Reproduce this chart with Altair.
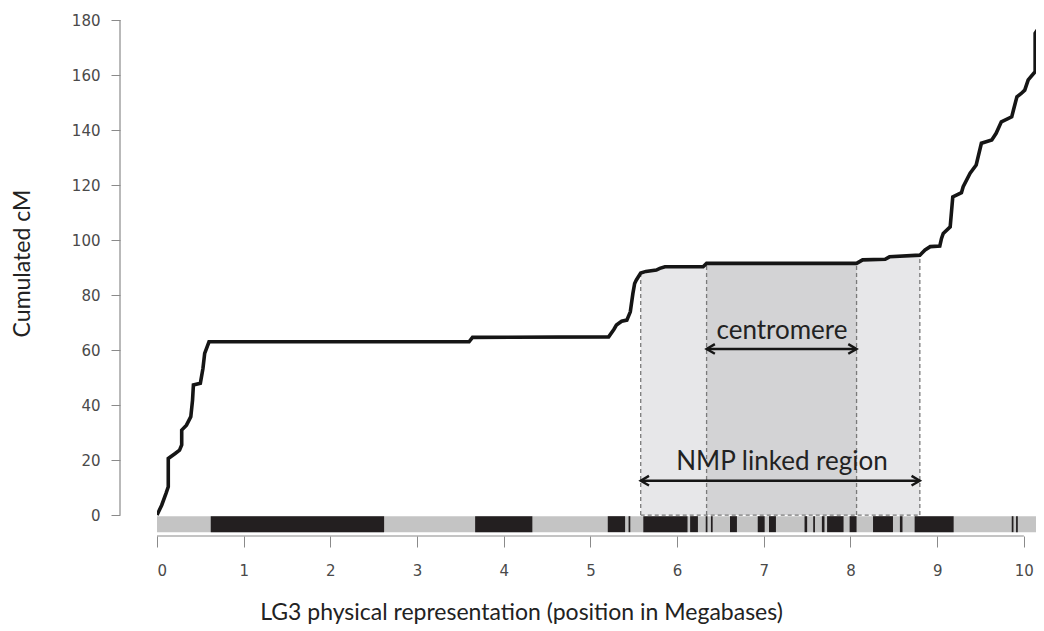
import altair as alt
import pandas as pd

# ---- cumulated genetic map along LG3 (position in Mb, cumulated cM) ----
pos_mb = [0.0, 0.054, 0.104, 0.13, 0.13, 0.21, 0.26, 0.285, 0.285, 0.34, 0.39, 0.41, 0.42,
          0.50, 0.53, 0.55, 0.60, 3.60, 3.64, 5.21, 5.27, 5.30, 5.36, 5.42, 5.46, 5.49,
          5.51, 5.53, 5.58, 5.64, 5.76, 5.80, 5.86, 6.30, 6.34, 8.07, 8.14, 8.40, 8.45,
          8.80, 8.86, 8.92, 9.03, 9.05, 9.07, 9.15, 9.18, 9.28, 9.30, 9.38, 9.45, 9.51,
          9.63, 9.68, 9.74, 9.86, 9.88, 9.92, 9.97, 10.01, 10.05, 10.13, 10.13, 10.17, 10.23]
cum_cm = [0.0, 3.6, 7.9, 10.3, 20.6, 22.4, 23.6, 25.5, 30.9, 32.7, 35.8, 41.8, 47.3,
          47.9, 53.3, 58.8, 63.0, 63.0, 64.6, 64.8, 67.5, 69.1, 70.5, 70.9, 73.9, 80.6,
          84.2, 85.5, 88.0, 88.6, 89.1, 89.7, 90.3, 90.3, 91.5, 91.5, 92.8, 93.0, 93.9,
          94.5, 96.4, 97.6, 97.8, 100.6, 102.4, 104.8, 115.7, 117.2, 119.4, 124.3, 127.3, 135.2,
          136.4, 138.8, 143.0, 144.8, 147.3, 152.1, 153.3, 154.5, 158.2, 161.2, 175.2, 177.0, 177.3]

# ---- physical representation bar: dark segments (Mb) ----
seg_start = [0.62, 3.67, 5.20, 5.44, 5.61, 6.15, 6.33, 6.39, 6.61, 6.93, 7.06, 7.47, 7.57,
             7.67, 7.73, 7.99, 8.26, 8.57, 8.74, 9.86, 9.91, 10.15]
seg_end = [2.62, 4.33, 5.40, 5.46, 6.12, 6.24, 6.35, 6.41, 6.69, 7.01, 7.14, 7.50, 7.59,
           7.70, 7.92, 8.07, 8.49, 8.60, 9.19, 9.88, 9.93, 10.24]
bar_start = [0.0]
bar_end = [10.24]
bar_top = -0.4
bar_bottom = -6.2

# ---- annotated regions ----
region_names = ["NMP linked region", "centromere"]
region_start = [5.58, 6.34]
region_end = [8.80, 8.07]
arrow_cm = [12.5, 60.4]
label_mb = [7.21, 7.21]
label_cm = [19.2, 66.8]

x_ticks = list(range(0, 11))
y_ticks = list(range(0, 181, 20))

X_MAX = 10.14
x_scale = alt.Scale(domain=[0, X_MAX], nice=False, zero=False)
y_scale = alt.Scale(domain=[-7.6, 180], nice=False, zero=False)

curve = pd.DataFrame({"i": range(len(pos_mb)), "mb": pos_mb, "cm": cum_cm, "zero": 0.0})
segs = pd.DataFrame({"s": seg_start, "e": seg_end, "t": bar_top, "b": bar_bottom})
bar = pd.DataFrame({"s": bar_start, "e": bar_end, "t": bar_top, "b": bar_bottom})

lookup = dict(zip(pos_mb, cum_cm))
edges = []
for s, e in zip(region_start, region_end):
    edges.append({"mb": s, "top": lookup[s], "zero": 0.0})
    edges.append({"mb": e, "top": lookup[e], "zero": 0.0})
edges = pd.DataFrame(edges)
regions = pd.DataFrame({"name": region_names, "s": region_start, "e": region_end,
                        "ay": arrow_cm, "lx": label_mb, "ly": label_cm, "zero": 0.0})
nmp = regions.iloc[[0]]

x_axis = alt.Axis(values=x_ticks, format="d", domain=False, grid=False, tickSize=11,
                  tickColor="#8a8a8a", labelColor="#4a4a4a", labelFont="DejaVu Sans",
                  labelFontSize=15, labelPadding=16,
                  title="LG3 physical representation (position in Megabases)",
                  titleFont="Lato", titleFontSize=23, titleFontWeight="normal",
                  titleColor="#222222", titleX=364, titleY=83, titleAlign="center",
                  titleBaseline="alphabetic")
y_axis = alt.Axis(values=y_ticks, domain=False, grid=False, tickSize=9, offset=37,
                  tickColor="#8a8a8a", labelColor="#4a4a4a", labelFont="DejaVu Sans",
                  labelFontSize=15, labelPadding=11,
                  title="Cumulated cM", titleFont="Lato", titleFontSize=23,
                  titleFontWeight="normal", titleColor="#222222", titleAngle=-90,
                  titleX=-91, titleY=243, titleAlign="center", titleBaseline="alphabetic")

X = lambda f: alt.X(f, scale=x_scale, axis=x_axis)
Y = lambda f: alt.Y(f, scale=y_scale, axis=y_axis)

nmp_area = alt.Chart(curve).transform_filter(
    (alt.datum.mb >= region_start[0]) & (alt.datum.mb <= region_end[0])
).mark_area(color="#e7e7e9", clip=True).encode(x=X("mb:Q"), y=Y("cm:Q"), y2="zero:Q")
cen_area = alt.Chart(curve).transform_filter(
    (alt.datum.mb >= region_start[1]) & (alt.datum.mb <= region_end[1])
).mark_area(color="#d3d3d5", clip=True).encode(x=X("mb:Q"), y=Y("cm:Q"), y2="zero:Q")

bar_bg = alt.Chart(bar).mark_rect(color="#c4c4c4", clip=True).encode(
    x=X("s:Q"), x2="e:Q", y=Y("t:Q"), y2="b:Q")
bar_segs = alt.Chart(segs).mark_rect(color="#231f20", clip=True).encode(
    x=X("s:Q"), x2="e:Q", y=Y("t:Q"), y2="b:Q")

dash = [4, 3]
edge_lines = alt.Chart(edges).mark_rule(color="#7a7a7a", strokeDash=dash, strokeWidth=1.3).encode(
    x=X("mb:Q"), y=Y("zero:Q"), y2="top:Q")
base_line = alt.Chart(nmp).mark_rule(color="#7a7a7a", strokeDash=dash, strokeWidth=1.3).encode(
    x=X("s:Q"), x2="e:Q", y=Y("zero:Q"))

line = alt.Chart(curve).mark_line(color="#151515", strokeWidth=3.6, clip=True,
                                  strokeJoin="miter").encode(
    x=X("mb:Q"), y=Y("cm:Q"), order="i:Q")

arrow_shaft = alt.Chart(regions).mark_rule(color="#151515", strokeWidth=2.4).encode(
    x=X("s:Q"), x2="e:Q", y=Y("ay:Q"))
head_left = alt.Chart(regions).mark_point(
    shape="M1.7,-1L0,0L1.7,1", filled=False, color="#151515", strokeWidth=2.4,
    size=95, opacity=1).encode(x=X("s:Q"), y=Y("ay:Q"))
head_right = alt.Chart(regions).mark_point(
    shape="M-1.7,-1L0,0L-1.7,1", filled=False, color="#151515", strokeWidth=2.4,
    size=95, opacity=1).encode(x=X("e:Q"), y=Y("ay:Q"))
labels = alt.Chart(regions).mark_text(font="Lato", fontSize=26, color="#222222",
                                      align="center", baseline="middle").encode(
    x=X("lx:Q"), y=Y("ly:Q"), text="name:N")

# axis lines drawn R-style: only across the tick range
x_dom = alt.Chart(pd.DataFrame({"a": [x_ticks[0]], "b": [x_ticks[-1]]})).mark_rule(
    color="#8a8a8a", strokeWidth=1.2).encode(x=X("a:Q"), x2="b:Q", y=alt.value(516))
y_dom = alt.Chart(pd.DataFrame({"a": [y_ticks[0]], "b": [y_ticks[-1]]})).mark_rule(
    color="#8a8a8a", strokeWidth=1.2).encode(y=Y("a:Q"), y2="b:Q", x=alt.value(-37))

chart = alt.layer(
    nmp_area, cen_area, bar_bg, bar_segs, edge_lines, base_line, line,
    arrow_shaft, head_left, head_right, labels, x_dom, y_dom
).properties(
    width=879, height=516,
    autosize=alt.AutoSizeParams(type="none"),
    padding={"left": 149, "top": 12, "right": 0, "bottom": 90},
    background="white",
).configure_view(stroke=None)

chart.save("out.html", embed_options={"renderer": "svg", "actions": False})
